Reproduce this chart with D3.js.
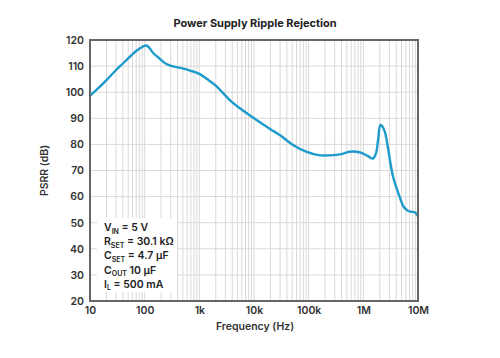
<!DOCTYPE html>
<html><head><meta charset="utf-8">
<script src="https://cdn.jsdelivr.net/npm/d3@7"></script>
<style>body{margin:0;background:#fff}svg{display:block}</style>
</head><body>
<script>
const freq = [10,15,20,30,40,50,70,90,106,120,143,180,250,320,450,700,1000,1500,2000,3600,5000,10000,20000,30000,50000,90000,150000,250000,400000,560000,850000,1200000,1500000,1700000,1860000,2050000,2250000,2500000,2800000,3500000,4600000,5500000,6500000,7500000,8700000,10000000];
const psrr = [98.6,102.0,104.6,108.5,111.0,113.0,115.8,117.3,117.9,117.2,115.0,113.2,110.8,110.0,109.3,108.2,107.0,104.5,102.5,97.0,94.5,90.0,85.8,83.5,80.0,77.2,75.9,75.8,76.3,77.2,77.0,75.6,74.6,76.5,81.7,87.4,86.8,84.5,79.1,67.6,60,56,54.6,54.2,54,52.5];
const xTickVals = [10,100,1000,10000,100000,1000000,10000000];
const xTickLabels = ["10","100","1k","10k","100k","1M","10M"];
const yTickVals = [20,30,40,50,60,70,80,90,100,110,120];
const title = "Power Supply Ripple Rejection";
const xTitle = "Frequency (Hz)";
const yTitle = "PSRR (dB)";

const W=500,H=358;
const m={left:90,right:82,top:40,bottom:57};
const svg=d3.select("body").append("svg").attr("width",W).attr("height",H);
const x=d3.scaleLog().domain([10,1e7]).range([m.left,W-m.right]);
const y=d3.scaleLinear().domain([20,120]).range([H-m.bottom,m.top]);
const font="Inter, 'DejaVu Sans', sans-serif";

// minor grid
const minor=[];
for(let d=10;d<1e7;d*=10){for(let k=1;k<10;k++){minor.push(d*k);}}
minor.push(1e7);
svg.append("g").selectAll("line").data(minor).join("line")
 .attr("x1",d=>x(d)).attr("x2",d=>x(d)).attr("y1",y(20)).attr("y2",y(120))
 .attr("stroke","#d9d9d9").attr("stroke-width",1);
svg.append("g").selectAll("line").data(yTickVals).join("line")
 .attr("x1",x(10)).attr("x2",x(1e7)).attr("y1",d=>y(d)).attr("y2",d=>y(d))
 .attr("stroke","#d9d9d9").attr("stroke-width",1);

// curve
const line=d3.line().x((d,i)=>x(freq[i])).y(d=>y(d)).curve(d3.curveCatmullRom.alpha(0.5));
svg.append("path").datum(psrr).attr("d",line).attr("fill","none")
 .attr("stroke","#1e9bcd").attr("stroke-width",2.4).attr("stroke-linejoin","round");

// annotation box
svg.append("rect").attr("x",97).attr("y",218).attr("width",80).attr("height",74).attr("fill","#fff");
const ann=svg.append("g").attr("font-family",font).attr("font-size",10.5).attr("font-weight",600).attr("fill","#222");
const rows=[["V","IN"," = 5 V"],["R","SET"," = 30.1 kΩ"],["C","SET"," = 4.7 µF"],["C","OUT"," 10 µF"],["I","L"," = 500 mA"]];
rows.forEach((r,i)=>{
  const t=ann.append("text").attr("x",104).attr("y",231+i*14.2);
  t.append("tspan").text(r[0]);
  t.append("tspan").attr("font-size",7).attr("dy",2.5).text(r[1]);
  t.append("tspan").attr("dy",-2.5).text(r[2]);
});

// border
svg.append("rect").attr("x",x(10)).attr("y",y(120)).attr("width",x(1e7)-x(10)).attr("height",y(20)-y(120))
 .attr("fill","none").attr("stroke","#666").attr("stroke-width",2);

// axes
const xAxis=d3.axisBottom(x).tickValues(xTickVals).tickFormat((d,i)=>xTickLabels[i]).tickSize(0).tickPadding(6);
const gx=svg.append("g").attr("transform",`translate(0,${y(20)})`).call(xAxis);
const yAxis=d3.axisLeft(y).tickValues(yTickVals).tickSize(0).tickPadding(6);
const gy=svg.append("g").attr("transform",`translate(${x(10)},0)`).call(yAxis);
[gx,gy].forEach(g=>{g.select(".domain").remove();
 g.selectAll("text").attr("font-family",font).attr("font-size",10.5).attr("font-weight",600).attr("fill","#333");});

svg.append("text").attr("x",255).attr("y",27).attr("text-anchor","middle").attr("font-family",font)
 .attr("font-size",11).attr("font-weight",700).attr("fill","#222").text(title);
svg.append("text").attr("x",255).attr("y",330).attr("text-anchor","middle").attr("font-family",font)
 .attr("font-size",10.5).attr("font-weight",600).attr("fill","#333").text(xTitle);
svg.append("text").attr("transform",`translate(48,${(y(20)+y(120))/2}) rotate(-90)`).attr("text-anchor","middle")
 .attr("font-family",font).attr("font-size",10.5).attr("font-weight",600).attr("fill","#333").text(yTitle);
</script>
</body></html>
